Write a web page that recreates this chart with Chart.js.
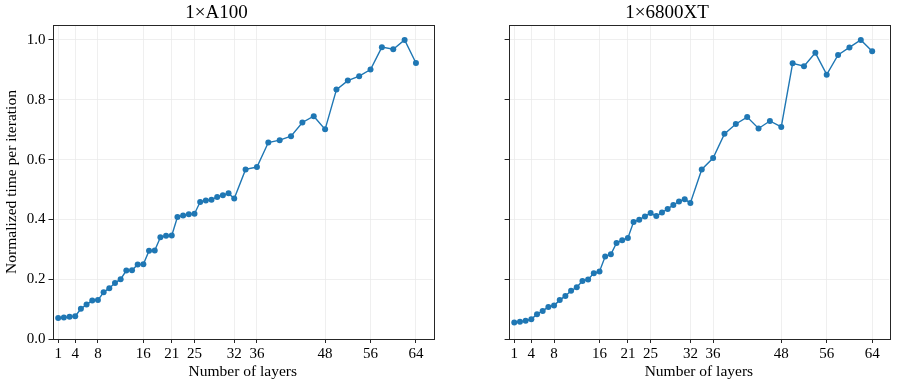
<!DOCTYPE html>
<html>
<head>
<meta charset="utf-8">
<script src="https://cdn.jsdelivr.net/npm/chart.js@4.4.1/dist/chart.umd.min.js"></script>
<style>
  body { margin: 0; background: #fff; }
  #wrap { position: relative; width: 897px; height: 385px; }
  canvas { position: absolute; top: 0; }
</style>
</head>
<body>
<div id="wrap">
  <canvas id="left" width="445" height="385" style="left:0"></canvas>
  <canvas id="right" width="452" height="385" style="left:445px"></canvas>
</div>
<script>
// x values (number of layers)
const layers = [1, 2, 3, 4, 5, 6, 7, 8, 9, 10, 11, 12, 13, 14, 15, 16,
  17, 18, 19, 20, 21, 22, 23, 24, 25, 26, 27, 28, 29, 30, 31, 32,
  34, 36, 38, 40, 42, 44, 46, 48, 50, 52, 54, 56, 58, 60, 62, 64];

const a100 = [0.070, 0.072, 0.074, 0.076, 0.101, 0.115, 0.129, 0.130,
  0.156, 0.170, 0.187, 0.200, 0.229, 0.230, 0.249, 0.250,
  0.295, 0.296, 0.340, 0.345, 0.346, 0.408, 0.413, 0.417,
  0.419, 0.458, 0.463, 0.466, 0.475, 0.481, 0.487, 0.470,
  0.567, 0.575, 0.657, 0.665, 0.678, 0.724, 0.745, 0.701,
  0.834, 0.864, 0.879, 0.901, 0.976, 0.969, 1.000, 0.923];

const rx6800 = [0.055, 0.058, 0.061, 0.066, 0.083, 0.094, 0.107, 0.112,
  0.130, 0.144, 0.161, 0.173, 0.194, 0.199, 0.220, 0.226,
  0.276, 0.283, 0.321, 0.330, 0.338, 0.391, 0.399, 0.410,
  0.421, 0.411, 0.423, 0.435, 0.448, 0.460, 0.467, 0.455,
  0.567, 0.605, 0.686, 0.719, 0.742, 0.704, 0.729, 0.709,
  0.922, 0.912, 0.957, 0.884, 0.950, 0.975, 1.000, 0.962];

const xTicks = [1, 4, 8, 16, 21, 25, 32, 36, 48, 56, 64];
const yTicks = [0, 0.2, 0.4, 0.6, 0.8, 1.0];

const FONT = "'Liberation Serif', 'Times New Roman', serif";
const BLUE = '#1f77b4';
const SPINE = '#262626';
const GRID = '#ebebeb';

// draws the full box around the plot area (top/right spines too)
const boxPlugin = {
  id: 'box',
  afterDraw(chart) {
    const { ctx, chartArea: a } = chart;
    ctx.save();
    ctx.strokeStyle = SPINE;
    ctx.lineWidth = 1;
    ctx.strokeRect(Math.round(a.left) + 0.5, Math.round(a.top) + 0.5,
      Math.round(a.right - a.left), Math.round(a.bottom - a.top));
    ctx.restore();
  }
};

function makeChart(id, title, values, yWidth, padRight, showY) {
  const ctx = document.getElementById(id).getContext('2d');
  return new Chart(ctx, {
    type: 'line',
    data: {
      datasets: [{
        data: layers.map((x, i) => ({ x: x, y: values[i] })),
        borderColor: BLUE,
        backgroundColor: BLUE,
        borderWidth: 1.4,
        pointRadius: 3,
        pointBorderWidth: 0,
        pointHoverRadius: 3,
        tension: 0
      }]
    },
    options: {
      responsive: false,
      animation: false,
      layout: { padding: { right: padRight, top: 0, bottom: 0, left: 0 } },
      plugins: {
        legend: { display: false },
        tooltip: { enabled: false },
        title: {
          display: true,
          text: title,
          color: '#000',
          font: { family: FONT, size: 19, weight: 'normal', lineHeight: 1.1 },
          padding: { top: 3, bottom: 1.1 }
        }
      },
      scales: {
        x: {
          type: 'linear',
          min: 0,
          max: 67,
          afterBuildTicks: s => { s.ticks = xTicks.map(v => ({ value: v })); },
          afterFit: s => { s.height = 46; },
          ticks: {
            color: '#000',
            font: { family: FONT, size: 15 },
            padding: 2,
            maxRotation: 0,
            autoSkip: false
          },
          grid: { color: GRID, lineWidth: 0.8, tickColor: SPINE, tickLength: 4, tickWidth: 1 },
          border: { display: false },
          title: {
            display: true,
            text: 'Number of layers',
            color: '#000',
            font: { family: FONT, size: 15.5 },
            padding: { top: 0, bottom: 4 }
          }
        },
        y: {
          type: 'linear',
          min: 0,
          max: 1.05,
          afterBuildTicks: s => { s.ticks = yTicks.map(v => ({ value: v })); },
          afterFit: s => { s.width = yWidth; },
          ticks: {
            display: showY,
            color: '#000',
            font: { family: FONT, size: 15 },
            padding: 3,
            callback: v => v.toFixed(1)
          },
          grid: { color: GRID, lineWidth: 0.8, tickColor: SPINE, tickLength: 4, tickWidth: 1 },
          border: { display: false },
          title: {
            display: showY,
            text: 'Normalized time per iteration',
            color: '#000',
            font: { family: FONT, size: 15.5 },
            padding: { top: 3, bottom: 0 }
          }
        }
      }
    },
    plugins: [boxPlugin]
  });
}

makeChart('left', '1\u00d7A100', a100, 52.5, 12, true);
makeChart('right', '1\u00d76800XT', rx6800, 63.6, 7.8, false);
</script>
</body>
</html>
